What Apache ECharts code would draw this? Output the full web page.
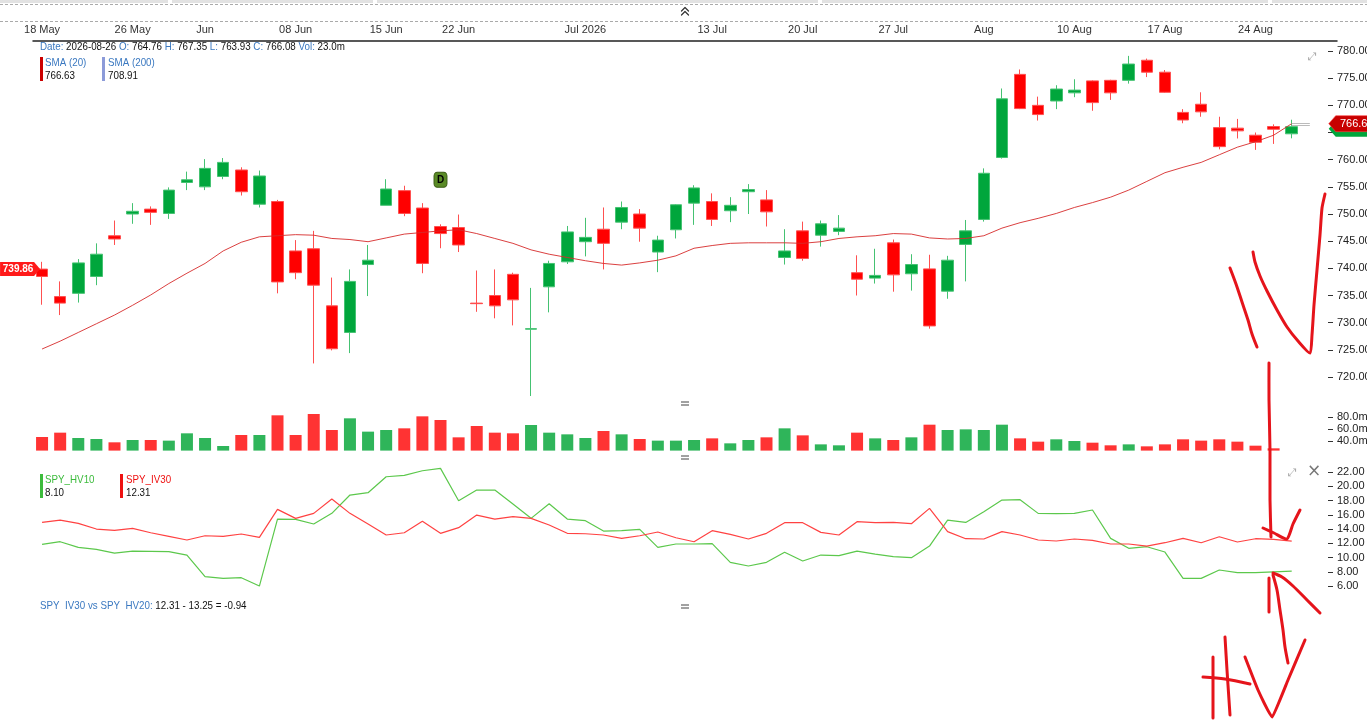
<!DOCTYPE html>
<html><head><meta charset="utf-8">
<script src="https://cdn.jsdelivr.net/npm/echarts@6/dist/echarts.min.js"></script>
<style>html,body{margin:0;padding:0;background:#fff}#c{width:1367px;height:720px}</style>
</head><body><div id="c"></div>
<script>
// ---------- DATA ----------
const dates = [
 '2026-05-18','2026-05-19','2026-05-20','2026-05-21','2026-05-22','2026-05-26','2026-05-27','2026-05-28','2026-05-29',
 '2026-06-01','2026-06-02','2026-06-03','2026-06-04','2026-06-05','2026-06-08','2026-06-09','2026-06-10','2026-06-11','2026-06-12',
 '2026-06-15','2026-06-16','2026-06-17','2026-06-18','2026-06-22','2026-06-23','2026-06-24','2026-06-25','2026-06-26','2026-06-29','2026-06-30',
 '2026-07-01','2026-07-02','2026-07-06','2026-07-07','2026-07-08','2026-07-09','2026-07-10','2026-07-13','2026-07-14','2026-07-15','2026-07-16','2026-07-17',
 '2026-07-20','2026-07-21','2026-07-22','2026-07-23','2026-07-24','2026-07-27','2026-07-28','2026-07-29','2026-07-30','2026-07-31',
 '2026-08-03','2026-08-04','2026-08-05','2026-08-06','2026-08-07','2026-08-10','2026-08-11','2026-08-12','2026-08-13','2026-08-14',
 '2026-08-17','2026-08-18','2026-08-19','2026-08-20','2026-08-21','2026-08-24','2026-08-25','2026-08-26'
];
const tickDates = ['2026-05-18','2026-05-26','2026-06-01','2026-06-08','2026-06-15','2026-06-22','2026-07-01','2026-07-13','2026-07-20','2026-07-27','2026-08-03','2026-08-10','2026-08-17','2026-08-24'];
const tickNames = ['18 May','26 May','Jun','08 Jun','15 Jun','22 Jun','Jul 2026','13 Jul','20 Jul','27 Jul','Aug','10 Aug','17 Aug','24 Aug'];

const opens  = [739.86,734.8,735.4,738.5,746.0,750.0,750.9,750.1,755.8,755.0,756.9,758.1,751.8,752.3,743.2,743.6,733.1,728.2,740.7,751.6,754.3,751.1,747.7,747.5,733.6,735.0,738.9,728.8,736.6,741.2,744.9,747.2,748.5,750.0,743.0,747.1,752.0,752.3,750.6,754.1,752.6,742.0,746.9,746.1,746.8,739.2,738.2,744.7,739.0,739.9,735.8,744.4,749.0,760.4,775.7,770.0,770.8,772.3,774.5,774.6,774.6,778.3,776.1,768.7,770.2,765.9,765.8,764.5,766.1,764.76];
const highs  = [741.2,737.6,741.7,744.6,748.8,752.0,751.4,754.9,757.8,760.1,760.3,758.6,758.0,752.6,745.2,746.9,738.3,739.8,744.3,756.4,755.2,752.0,748.1,749.9,739.6,739.8,739.2,736.4,741.4,747.8,749.3,751.2,752.3,750.9,746.0,751.8,755.3,753.8,753.1,755.5,754.4,747.2,748.6,748.8,749.8,742.4,743.6,745.3,742.6,742.5,742.3,748.9,758.4,773.1,776.6,771.6,773.7,774.8,774.6,774.7,779.1,778.6,776.5,769.3,772.4,767.9,767.5,765.0,766.5,767.35];
const lows   = [733.3,731.4,733.7,736.9,744.3,748.2,748.0,749.1,754.4,754.4,756.4,753.4,751.2,735.4,738.0,722.5,724.9,724.4,734.9,751.6,749.6,739.1,743.7,743.0,732.0,730.8,729.5,716.5,731.9,740.8,742.2,739.8,747.2,744.9,739.3,745.5,748.0,747.8,748.5,750.0,747.7,740.7,741.4,744.0,746.1,735.0,737.2,735.7,735.9,728.9,734.4,737.6,748.6,760.2,769.3,767.2,769.3,771.5,769.0,771.0,774.0,775.2,772.3,766.7,767.9,761.9,763.9,761.8,762.9,763.93];
const closes = [738.5,733.6,741.0,742.6,745.4,750.5,750.3,754.4,756.3,758.4,759.5,754.1,757.0,737.5,739.2,736.9,725.2,737.6,741.5,754.6,750.1,740.9,746.4,744.3,733.5,733.1,734.2,728.9,740.9,746.7,745.7,744.6,751.2,747.4,745.2,751.7,754.8,749.0,751.6,754.5,750.4,743.2,741.8,748.2,747.4,738.0,738.7,738.8,740.7,729.4,741.5,746.9,757.5,771.2,769.4,768.3,773.0,772.8,770.5,772.3,777.6,776.1,772.4,767.3,768.8,762.4,765.3,763.2,765.6,766.08];
const sma20  = [725.15,726.6,728.2,729.8,731.4,733.2,735.1,737.2,739.1,740.9,743.2,744.8,745.8,746.0,746.2,746.1,745.5,745.3,744.9,745.6,746.3,746.6,746.9,747.1,746.4,745.5,744.6,743.4,742.6,742.0,741.4,740.9,740.6,741.0,741.5,742.3,743.7,744.2,744.6,744.7,744.7,744.7,744.6,744.9,745.5,745.8,746.0,746.4,746.3,745.6,745.4,745.5,746.0,747.4,748.4,749.2,750.1,751.2,752.1,753.1,754.4,756.0,757.6,758.6,759.5,760.9,762.3,763.3,764.5,766.63];
const volumes = [46.7,53.9,45.0,43.3,37.8,41.7,41.7,40.6,52.8,45.0,31.7,50.0,50.0,82.8,50.0,85.0,58.3,77.8,55.6,58.3,61.1,81.1,75.0,46.1,65.0,53.9,52.8,66.7,53.9,51.1,45.0,56.7,51.1,43.3,40.6,40.6,41.7,44.4,36.1,41.7,46.1,61.1,49.4,34.4,32.8,53.9,44.4,41.7,46.1,67.2,58.3,59.4,58.3,67.2,44.4,38.9,42.8,40.0,37.2,32.8,34.4,31.1,34.4,42.8,40.6,42.8,38.9,32.2,27.8,23.0];
const hv10 = [11.85,12.22,11.43,11.15,10.63,10.91,10.87,10.82,10.35,7.31,7.08,7.17,6.0,15.4,15.36,14.7,16.2,18.77,19.1,21.34,21.53,22.18,22.51,17.98,19.47,19.47,17.5,15.5,17.55,15.4,15.17,13.72,13.77,13.95,11.43,11.9,11.9,11.95,9.33,8.81,9.33,10.73,9.51,10.35,10.26,10.91,10.49,10.12,9.98,11.61,15.26,14.93,16.43,18.07,18.12,16.2,16.15,16.2,16.67,12.69,11.29,11.52,10.77,7.08,7.08,8.25,7.87,7.87,8.0,8.10];
const iv30 = [14.93,15.26,14.8,14.0,13.82,14.1,13.48,12.97,12.46,13.06,12.97,13.3,12.83,16.76,15.5,16.2,18.21,16.2,14.7,13.16,13.48,15.08,13.4,14.19,15.96,15.4,15.73,15.5,14.56,13.4,13.34,13.16,12.69,13.06,13.58,12.78,12.22,13.77,13.25,12.6,13.4,14.89,14.89,13.53,13.16,15.03,14.89,14.94,14.75,16.9,13.63,12.64,12.6,13.63,13.16,12.46,12.32,12.6,12.41,11.9,11.9,11.61,12.08,12.69,12.08,12.92,12.18,12.64,12.55,12.31];
const priceTicks = [720,725,730,735,740,745,750,755,760,765,770,775,780];
const volTicks = [40,60,80];
const volTicksLabel = v => v.toFixed(1) + 'm';
const hvTicks = [6,8,10,12,14,16,18,20,22];
const sma200Last = 708.91;
const hv20Last = 13.25;
const firstTag = 739.86;
const dividendDateIndex = 22;
const dividendMarkerPrice = 756.3;

// ---------- CHART ----------
const FONT = "'Liberation Sans',Arial,sans-serif";
const axisCats = dates.concat(['', ' ']);
const tickMap = {};
tickDates.forEach((d, i) => tickMap[d] = tickNames[i]);
const showTick = (idx, val) => tickMap[val] !== undefined;
const last = dates.length - 1;
const GREEN = '#00a63c', RED = '#ff0000';

const candleData = opens.map((o, i) => [o, closes[i], lows[i], highs[i]]);
const volData = volumes.map((v, i) => ({
  value: v,
  itemStyle: { color: closes[i] >= opens[i] ? '#2fb55a' : '#ff3333' }
}));

const grids = [
  { left: 33, right: 30, top: 41, bottom: 321.8, outerBoundsMode: 'none', containLabel: false },
  { left: 33, right: 30, top: 408, bottom: 269.4, outerBoundsMode: 'none', containLabel: false },
  { left: 33, right: 30, top: 464.9, bottom: 130.4, outerBoundsMode: 'none', containLabel: false }
];

function rightAxis(gridIndex, min, max, ticks, fmt) {
  return {
    type: 'value', gridIndex, position: 'right', min, max, offset: -9,
    axisLine: { show: false },
    axisTick: { show: true, length: 5, customValues: ticks, lineStyle: { color: '#333' } },
    axisLabel: { customValues: ticks, formatter: fmt, margin: 9, color: '#222', fontSize: 11, fontFamily: FONT },
    splitLine: { show: false }
  };
}

const tagFont = { color: '#fff', fontSize: 11, fontFamily: 'Liberation Sans, Arial' };

const f = (v, d) => v.toFixed(d);
const SX = 0.89; // narrow legend font
const T = (x, y, text, fill, extra) => ({
  type: 'text', z: 50, x: x, y: y, scaleX: SX,
  style: Object.assign({ x: 0, y: 0, text, fill, font: '11px ' + FONT, verticalAlign: 'middle' }, extra || {})
});
const R = (x, y, w, h, fill) => ({ type: 'rect', z: 50, shape: { x, y, width: w, height: h }, style: { fill } });
const L = (x1, y1, x2, y2, stroke, dash) => ({ type: 'line', z: 50, shape: { x1, y1, x2, y2 }, style: { stroke, lineWidth: 1, lineDash: dash || null } });
const P = (pts, stroke, w, smooth) => ({ type: 'polyline', z: 60, shape: { points: pts, smooth: smooth || 0 }, style: { stroke, lineWidth: w, fill: null, lineCap: 'round', lineJoin: 'round' } });

const BLUE = '#3a78c0';
const HAND = '#e5141b';
const richStyle = { l: { fill: BLUE, font: '11px ' + FONT }, v: { fill: '#111', font: '11px ' + FONT } };
const graphics = [
  R(0, 0, 1367, 3, '#e2e2e2'),
  R(168, 0, 4, 3, '#fff'), R(373, 0, 4, 3, '#fff'), R(818, 0, 4, 3, '#fff'), R(1268, 0, 4, 3, '#fff'),
  L(0, 4.5, 1367, 4.5, '#aaa', [3, 2]),
  L(0, 21.5, 1367, 21.5, '#aaa', [3, 2]),
  P([[681.5, 11], [685, 7.5], [688.5, 11]], '#333', 1.2),
  P([[681.5, 15], [685, 11.5], [688.5, 15]], '#333', 1.2),
  L(681, 402, 689, 402, '#444'), L(681, 405, 689, 405, '#444'),
  L(681, 456, 689, 456, '#444'), L(681, 459, 689, 459, '#444'),
  L(681, 605, 689, 605, '#444'), L(681, 608, 689, 608, '#444'),
  { type: 'text', z: 50, style: { x: 1308, y: 57, text: '\u2922', fill: '#aaa', font: '11px DejaVu Sans', verticalAlign: 'middle' } },
  { type: 'text', z: 50, style: { x: 1288, y: 473, text: '\u2922', fill: '#aaa', font: '11px DejaVu Sans', verticalAlign: 'middle' } },
  { type: 'text', z: 50, style: { x: 1307, y: 472, text: '\u00d7', fill: '#777', font: '17px DejaVu Sans', verticalAlign: 'middle' } },
  // top info line
  {
    type: 'text', z: 50, x: 40, y: 47, scaleX: SX, style: {
      x: 0, y: 0, verticalAlign: 'middle', font: '11px ' + FONT,
      text: '{l|Date:} {v|' + dates[last] + '} {l|O:} {v|' + f(opens[last], 2) + '} {l|H:} {v|' + f(highs[last], 2) +
        '} {l|L:} {v|' + f(lows[last], 2) + '} {l|C:} {v|' + f(closes[last], 2) + '} {l|Vol:} {v|' + f(volumes[last], 1) + 'm}',
      rich: richStyle
    }
  },
  R(40, 57, 3, 24, '#cc0000'),
  T(45, 62.5, 'SMA (20)', BLUE), T(45, 75.5, f(sma20[last], 2), '#111'),
  R(102, 57, 3, 24, '#8c9bd9'),
  T(108, 62.5, 'SMA (200)', BLUE), T(108, 75.5, f(sma200Last, 2), '#111'),
  // HV legend
  R(40, 474, 3, 24, '#3cbb3c'),
  T(45, 480, 'SPY_HV10', '#3cbb3c'), T(45, 492.5, f(hv10[last], 2), '#111'),
  R(120, 474, 3, 24, '#ee1111'),
  T(126, 480, 'SPY_IV30', '#ee1111'), T(126, 492.5, f(iv30[last], 2), '#111'),
  {
    type: 'text', z: 50, x: 40, y: 606, scaleX: SX, style: {
      x: 0, y: 0, verticalAlign: 'middle', font: '11px ' + FONT,
      text: '{l|SPY  IV30 vs SPY  HV20:} {v|' + f(iv30[last], 2) + ' - ' + f(hv20Last, 2) + ' = ' + f(iv30[last] - hv20Last, 2) + '}',
      rich: richStyle
    }
  },
  // hand-drawn annotations
  P([[1230, 268], [1236, 284], [1242, 302], [1248, 320], [1252, 334], [1257, 347]], HAND, 3, 0.3),
  P([[1253, 252], [1255, 262], [1260, 276], [1267, 291], [1277, 310], [1287, 327], [1298, 341], [1310, 353], [1312, 335], [1314, 305], [1317, 270], [1320, 235], [1322, 208], [1325, 194]], HAND, 3, 0.2),
  P([[1269, 363], [1269, 400], [1270, 450], [1270, 500], [1271, 537]], HAND, 3, 0.2),
  P([[1263, 528], [1274, 533], [1287, 539], [1293, 524], [1300, 510]], HAND, 3, 0.2),
  P([[1269, 578], [1269, 612]], HAND, 3),
  P([[1273, 573], [1282, 577], [1293, 586], [1307, 600], [1320, 613]], HAND, 3, 0.3),
  P([[1273, 575], [1277, 590], [1280, 610], [1283, 630], [1285, 647], [1288, 663]], HAND, 3, 0.3),
  P([[1213, 657], [1213, 718]], HAND, 3),
  P([[1225, 637], [1227, 670], [1229, 700], [1230, 715]], HAND, 3, 0.3),
  P([[1203, 677], [1225, 679], [1250, 684]], HAND, 3, 0.3),
  P([[1245, 657], [1258, 690], [1272, 717], [1288, 680], [1305, 640]], HAND, 3, 0.1)
];

const tagShapeRight = 'path://M0,8L7,0L48,0L48,16L7,16Z';

const chart = echarts.init(document.getElementById('c'), null, { renderer: 'canvas' });
chart.setOption({
  animation: false,
  backgroundColor: '#fff',
  grid: grids,
  xAxis: [
    {
      type: 'category', gridIndex: 0, data: axisCats, position: 'top', boundaryGap: true,
      axisLine: { lineStyle: { color: '#222', width: 1.5 } },
      axisTick: { interval: showTick, alignWithLabel: true, length: 5, lineStyle: { color: '#444' } },
      axisLabel: { interval: showTick, formatter: v => tickMap[v] || '', color: '#333', fontSize: 11, margin: 6, fontFamily: FONT },
      splitLine: { show: false }
    },
    { type: 'category', gridIndex: 1, data: axisCats, boundaryGap: true, show: false },
    { type: 'category', gridIndex: 2, data: axisCats, boundaryGap: true, show: false }
  ],
  yAxis: [
    rightAxis(0, 716.1, 781.84, priceTicks, v => v.toFixed(2)),
    rightAxis(1, 24, 95, volTicks, volTicksLabel),
    rightAxis(2, 5.5, 23, hvTicks, v => v.toFixed(2))
  ],
  series: [
    {
      type: 'candlestick', name: 'SPY', xAxisIndex: 0, yAxisIndex: 0, data: candleData, barWidth: 12,
      itemStyle: { color: GREEN, color0: RED, borderColor: '#45c272', borderColor0: '#ff5050', borderWidth: 1 },
      markLine: {
        silent: true, symbol: 'none',
        data: [[{ coord: [dates[last], closes[last] + 0.25] }, { coord: [axisCats[last + 1], closes[last] + 0.25] }],
               [{ coord: [dates[last], closes[last] + 0.55] }, { coord: [axisCats[last + 1], closes[last] + 0.55] }]],
        lineStyle: { color: '#bbb', width: 1, type: 'solid' },
        label: { show: false }
      }
    },
    {
      type: 'line', name: 'SMA (20)', xAxisIndex: 0, yAxisIndex: 0, data: sma20, symbol: 'none', z: 3,
      lineStyle: { color: '#d62b2b', width: 1, opacity: 0.9 },
      markPoint: {
        symbolKeepAspect: false,
        data: [
          {
            coord: [dates[dividendDateIndex], dividendMarkerPrice], symbol: 'roundRect', symbolSize: [13, 15],
            itemStyle: { color: '#5a8a26', borderColor: '#3b5c14', borderWidth: 1 },
            label: { show: true, position: 'inside', formatter: 'D', color: '#000', fontSize: 10, fontWeight: 'bold', fontFamily: 'Liberation Sans' }
          },
          {
            coord: [dates[0], firstTag], symbol: 'path://M0,0L34,0L40,7L34,14L0,14Z', symbolSize: [40, 14], symbolOffset: [-22, 0],
            itemStyle: { color: '#ff1a1a' },
            label: Object.assign({ show: true, position: 'inside', formatter: f(firstTag, 2), offset: [-2, 0] }, tagFont, { fontSize: 10, fontWeight: 'bold' })
          },
          {
            coord: [dates[last], closes[last]], symbol: tagShapeRight, symbolSize: [48, 16], symbolOffset: [61, 2],
            itemStyle: { color: GREEN },
            label: { show: false }
          },
          {
            coord: [dates[last], sma20[last]], symbol: tagShapeRight, symbolSize: [48, 16], symbolOffset: [61, 0],
            itemStyle: { color: '#c80000', borderColor: '#ff4444', borderWidth: 0.5 },
            label: Object.assign({ show: true, position: 'inside', formatter: f(sma20[last], 2), offset: [4, 0] }, tagFont)
          }
        ]
      }
    },
    {
      type: 'bar', name: 'Volume', xAxisIndex: 1, yAxisIndex: 1, data: volData, barWidth: 12
    },
    {
      type: 'line', name: 'SPY_HV10', xAxisIndex: 2, yAxisIndex: 2, data: hv10, symbol: 'none',
      lineStyle: { color: '#5cc84c', width: 1.2 }
    },
    {
      type: 'line', name: 'SPY_IV30', xAxisIndex: 2, yAxisIndex: 2, data: iv30, symbol: 'none',
      lineStyle: { color: '#ff4242', width: 1.2 }
    }
  ],
  graphic: graphics
});
</script>
</body></html>
